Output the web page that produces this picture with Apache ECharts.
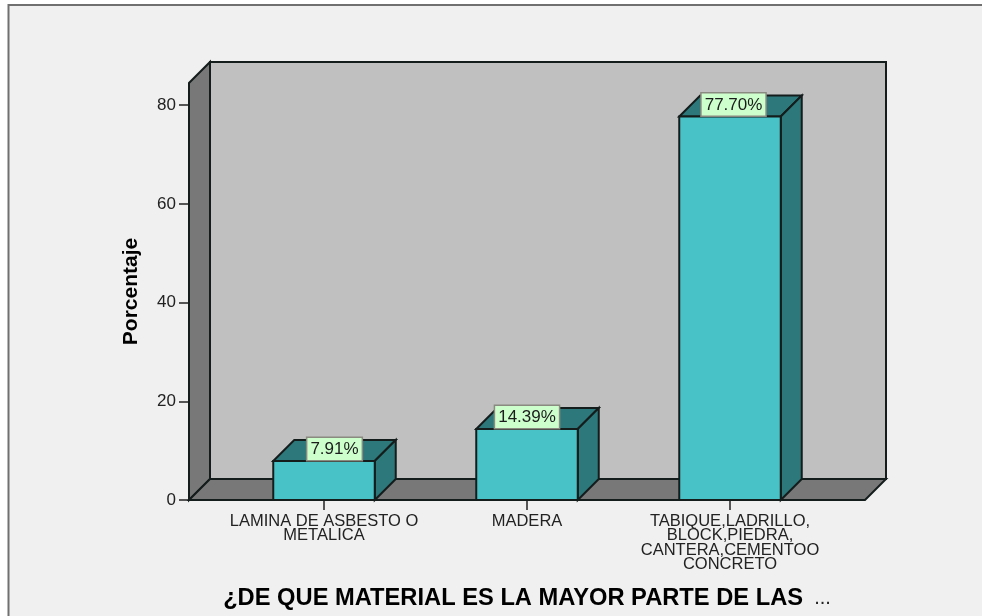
<!DOCTYPE html>
<html><head><meta charset="utf-8">
<style>html,body{margin:0;padding:0;background:#fff}#c{width:982px;height:616px}</style>
<script src="https://cdn.jsdelivr.net/npm/echarts@6/dist/echarts.min.js"></script>
</head><body><div id="c"></div>
<script>
var categories = ['LAMINA DE ASBESTO O\nMETALICA', 'MADERA', 'TABIQUE,LADRILLO,\nBLOCK,PIEDRA,\nCANTERA,CEMENTOO\nCONCRETO'];
var percentages = [7.91, 14.39, 77.70];
var yTicks = [0, 20, 40, 60, 80];
var yTitle = 'Porcentaje';
var xTitle = '¿DE QUE MATERIAL ES LA MAYOR PARTE DE LAS';

var DEPTH = 21, SIDE_MARGIN = 33.5;
var labelNudge = [10.5, 0, 3.5];
var LINE = '#141c1c', FONT = '"Liberation Sans", Arial, sans-serif';

function poly(points, fill) {
  return { type: 'polygon', shape: { points: points }, style: { fill: fill, stroke: LINE, lineWidth: 2, lineJoin: 'miter' } };
}
function renderWalls(params, api) {
  var cs = params.coordSys;
  var l = cs.x - SIDE_MARGIN, r = cs.x + cs.width + SIDE_MARGIN, t = cs.y, b = cs.y + cs.height, d = DEPTH;
  return { type: 'group', children: [
    poly([[l + d, t - d], [r + d, t - d], [r + d, b - d], [l + d, b - d]], '#c0c0c0'),
    poly([[l, b], [l, t], [l + d, t - d], [l + d, b - d]], '#787878'),
    poly([[l, b], [l + d, b - d], [r + d, b - d], [r, b]], '#787878')
  ] };
}
function renderBar(params, api) {
  var i = api.value(0), v = api.value(1);
  var top = api.coord([i, v]), base = api.coord([i, 0]);
  var w = api.size([1, 0])[0] / 2, d = DEPTH;
  var x0 = top[0] - w / 2, x1 = top[0] + w / 2, yt = top[1], yb = base[1];
  return { type: 'group', children: [
    poly([[x0, yt], [x0 + d, yt - d], [x1 + d, yt - d], [x1, yt]], '#2c787a'),
    poly([[x1, yt], [x1 + d, yt - d], [x1 + d, yb - d], [x1, yb]], '#2c787a'),
    poly([[x0, yt], [x1, yt], [x1, yb], [x0, yb]], '#48c2c6'),
    { type: 'text', z2: 10, style: {
        text: v.toFixed(2) + '%', x: top[0] + labelNudge[i], y: yt - 1,
        align: 'center', verticalAlign: 'bottom', font: '17px ' + FONT, fill: '#1c1c1c',
        backgroundColor: '#ccffcc', borderColor: '#8a8a80', borderWidth: 1.5,
        padding: [3, 3, 2, 3]
    } }
  ] };
}

var chart = echarts.init(document.getElementById('c'), null, { renderer: 'canvas' });
chart.setOption({
  animation: false,
  backgroundColor: '#ffffff',
  graphic: [{ type: 'rect', z: -10, shape: { x: 8.5, y: 5, width: 1000, height: 640 },
    style: { fill: '#f0f0f0', stroke: '#707070', lineWidth: 2 } }],
  grid: { left: 222.5, top: 83, width: 609, height: 417, outerBoundsMode: 'none' },
  xAxis: {
    type: 'category', data: categories,
    axisLine: { show: false },
    axisTick: { show: true, alignWithLabel: true, length: 10, lineStyle: { color: '#222', width: 1.5 } },
    axisLabel: { interval: 0, margin: 14, color: '#222', fontFamily: FONT, fontSize: 16.5, lineHeight: 14.5, verticalAlign: 'top' },
    name: '{b|' + xTitle + '}{d|  ...}',
    nameLocation: 'middle', nameGap: 86,
    nameTextStyle: { rich: {
      b: { fontFamily: FONT, fontSize: 23.7, fontWeight: 'bold', color: '#000' },
      d: { fontFamily: FONT, fontSize: 20, color: '#222' }
    } }
  },
  yAxis: {
    type: 'value', min: 0, max: 84.5, interval: 20, offset: SIDE_MARGIN,
    splitLine: { show: false },
    axisLine: { show: false },
    axisTick: { show: true, length: 10, customValues: yTicks, lineStyle: { color: '#222', width: 1.5 } },
    axisLabel: { customValues: yTicks, margin: 13, color: '#222', fontFamily: FONT, fontSize: 17 },
    name: yTitle, nameLocation: 'middle', nameGap: 47, nameRotate: 90,
    nameTextStyle: { fontFamily: FONT, fontSize: 21, fontWeight: 'bold', color: '#000' }
  },
  series: [
    { type: 'custom', z: 1, silent: true, clip: false, renderItem: renderWalls, encode: { x: 0, y: 1 }, data: [[0, 0]] },
    { type: 'custom', z: 2, clip: false, renderItem: renderBar, encode: { x: 0, y: 1 },
      data: percentages.map(function (v, i) { return [i, v]; }) }
  ]
});
</script></body></html>
